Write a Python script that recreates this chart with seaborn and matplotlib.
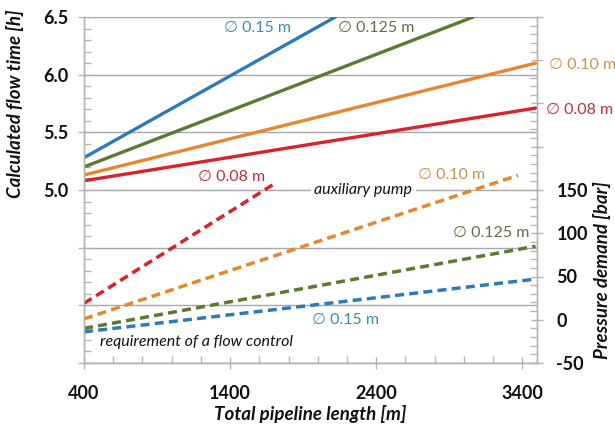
import matplotlib
matplotlib.use("Agg")
import matplotlib.pyplot as plt
import seaborn as sns
import pandas as pd
from matplotlib.ticker import MultipleLocator, FixedLocator, FuncFormatter

# ---- data ----
diameters = ["0.15", "0.125", "0.10", "0.08"]
# solid lines: calculated flow time [h] (left axis)
time_len_start = [400, 400, 400, 400]
time_len_end = [2120, 3064, 3490, 3490]
time_start = [5.28, 5.20, 5.13, 5.08]
time_end = [6.50, 6.50, 6.10, 5.71]
# dashed lines: pressure demand [bar] (right axis)
pres_len_start = [400, 400, 400, 400]
pres_len_end = [3490, 3490, 3370, 1710]
pres_start = [-14, -10, 1, 19]
pres_end = [47, 85, 167, 158]

colors = ["#2b7bba", "#5a7a30", "#e8862c", "#d9222a"]
label_colors = ["#3b8db0", "#5f6f47", "#c9924f", "#b8303e"]

x_ticks = [400, 1400, 2400, 3400]

rows_t, rows_p = [], []
for i, d in enumerate(diameters):
    rows_t += [(time_len_start[i], time_start[i], d), (time_len_end[i], time_end[i], d)]
    rows_p += [(pres_len_start[i], pres_start[i], d), (pres_len_end[i], pres_end[i], d)]
df_t = pd.DataFrame(rows_t, columns=["length", "value", "diameter"])
df_p = pd.DataFrame(rows_p, columns=["length", "value", "diameter"])
palette = dict(zip(diameters, colors))

sns.set_theme(style="white")
FAM = ["Lato", "DejaVu Sans"]
plt.rcParams["font.family"] = FAM

fig = plt.figure(figsize=(6.15, 4.28), dpi=100)
ax = fig.add_axes([84 / 615, 1 - 363 / 428, (537 - 84) / 615, (363 - 17) / 428])
ax2 = ax.twinx()

sns.lineplot(data=df_t, x="length", y="value", hue="diameter", palette=palette,
             ax=ax, linewidth=2.4, legend=False, estimator=None, sort=False)
sns.lineplot(data=df_p, x="length", y="value", hue="diameter", palette=palette,
             ax=ax2, linewidth=2.5, legend=False, estimator=None, sort=False)
for ln in ax2.lines:
    ln.set_dashes((2.6, 1.5))
    ln.set_dash_capstyle("butt")

# ---- axes ----
ax.set_xlim(400, 3500)
ax.set_ylim(3.5, 6.5)
ax2.set_ylim(-50, 350)

ax.xaxis.set_major_locator(FixedLocator(x_ticks))
ax.xaxis.set_minor_locator(MultipleLocator(200))
ax.yaxis.set_major_locator(MultipleLocator(0.5))
ax.yaxis.set_minor_locator(MultipleLocator(0.1))
ax2.yaxis.set_major_locator(MultipleLocator(50))
ax2.yaxis.set_minor_locator(MultipleLocator(10))

ax.yaxis.set_major_formatter(FuncFormatter(lambda v, p: f"{v:.1f}" if v >= 4.99 else ""))
ax2.yaxis.set_major_formatter(FuncFormatter(lambda v, p: f"{int(round(v))}" if v <= 151 else ""))

ax.grid(False)
ax2.grid(False)
ax.yaxis.grid(True, which="major", color="#a8a8a8", linewidth=1.0)
ax.set_axisbelow(True)

spine_c = "#b4b4b4"
for a in (ax, ax2):
    for s in a.spines.values():
        s.set_color(spine_c)
        s.set_linewidth(1.0)
    a.spines["top"].set_visible(False)

tick_font = dict(labelsize=13, labelcolor="#111111", colors=spine_c)
ax.tick_params(axis="y", which="major", direction="inout", length=8, width=1,
               pad=7, **tick_font)
ax.tick_params(axis="x", which="major", direction="inout", length=8, width=1,
               pad=12, **tick_font)
ax.tick_params(axis="both", which="minor", direction="in", length=5, width=1, colors=spine_c)
ax.tick_params(axis="y", which="both", left=True, right=False)
ax.tick_params(axis="x", which="both", bottom=True, top=False)
ax2.tick_params(axis="y", which="major", direction="inout", length=8, width=1,
                pad=10, right=True, **tick_font)
ax2.tick_params(axis="y", which="minor", direction="in", length=5, width=1,
                right=True, colors=spine_c)
for a in (ax, ax2):
    for lab in a.get_xticklabels() + a.get_yticklabels():
        lab.set_fontweight("bold")

lab_font = dict(fontsize=13.5, fontweight="bold", fontstyle="italic", color="#111111")
ax.set_xlabel("Total pipeline length [m]", **lab_font)
ax.set_ylabel("Calculated flow time [h]", **lab_font)
ax2.set_ylabel("Pressure demand [bar]", rotation=90, **lab_font)
ax.xaxis.set_label_coords(0.50, -0.122)
ax.yaxis.set_label_coords(-0.132, 0.75)
ax2.yaxis.set_label_coords(1.124, 0.27)

# ---- annotations ----
ann = dict(fontsize=11.5, va="center", family=FAM)
ax.text(1585, 6.404, "∅ 0.15 m", color=label_colors[0], ha="center", **ann)
ax.text(2400, 6.404, "∅ 0.125 m", color=label_colors[1], ha="center", **ann)
ax.text(3580, 6.083, "∅ 0.10 m", color=label_colors[2], ha="left", clip_on=False, **ann)
ax.text(3565, 5.69, "∅ 0.08 m", color=label_colors[3], ha="left", clip_on=False, **ann)
ax.text(1407, 5.109, "∅ 0.08 m", color=label_colors[3], ha="center", **ann)

ax2.text(2311, 150, "auxiliary pump", color="#111111", ha="center", fontstyle="italic",
         bbox=dict(facecolor="white", edgecolor="none", pad=2.5), **ann)
ax2.text(2914, 167, "∅ 0.10 m", color=label_colors[2], ha="center", **ann)
ax2.text(3188, 100, "∅ 0.125 m", color=label_colors[1], ha="center", **ann)
ax2.text(2188, 0, "∅ 0.15 m", color=label_colors[0], ha="center", **ann)
ax2.text(1167, -25.8, "requirement of a flow control", color="#111111", ha="center",
         fontstyle="italic", **ann)

fig.savefig("out.png", dpi=100)
